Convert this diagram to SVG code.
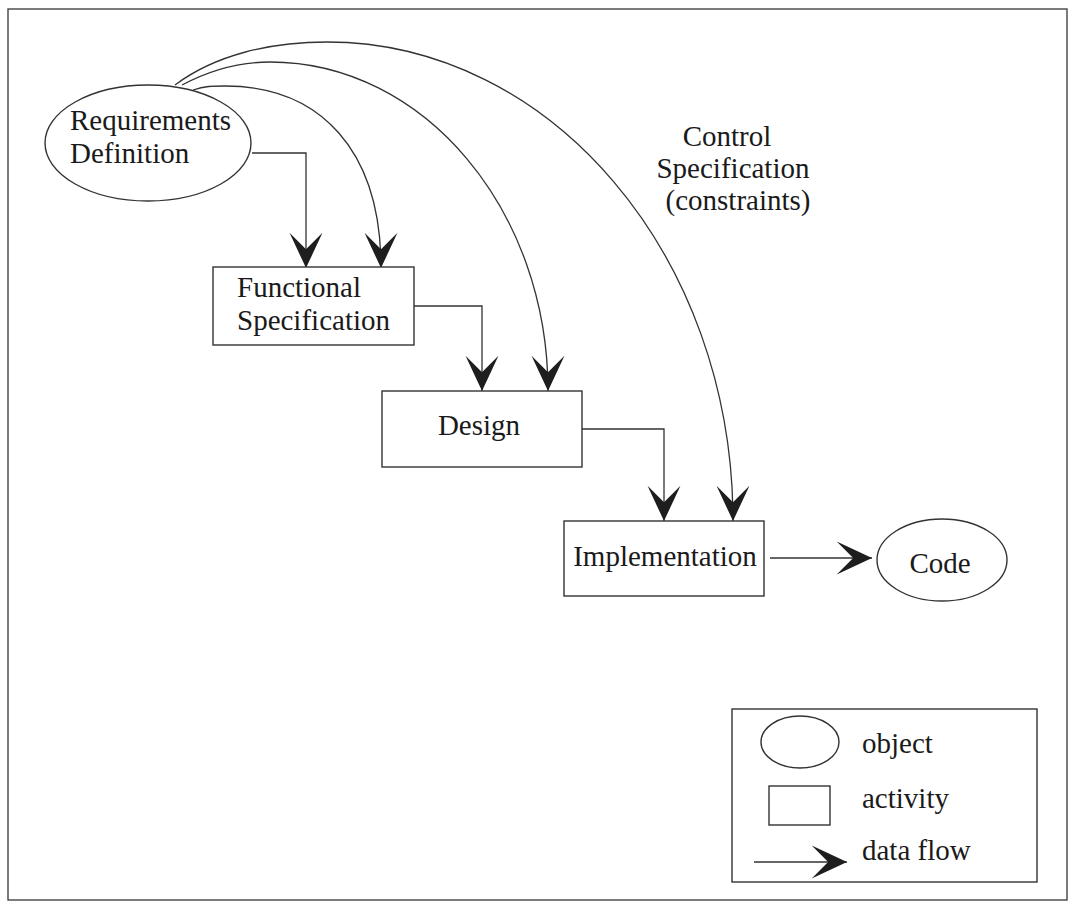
<svg xmlns="http://www.w3.org/2000/svg" width="1071" height="912" viewBox="0 0 1071 912">
<defs>
<style>
.t{font-family:"Liberation Serif","Times New Roman",serif;font-size:29px;fill:#1a1a1a}
.s{fill:#fff;stroke:#333;stroke-width:1.4}
.c{fill:none;stroke:#333;stroke-width:1.3}
</style>
<marker id="ah" markerUnits="userSpaceOnUse" markerWidth="40" markerHeight="40" viewBox="-32 -16 34 32" refX="0" refY="0" orient="auto">
<path d="M0,0 L-30,-14 L-16,0 L-30,14 Z" fill="#1e1e1e"/>
</marker>
</defs>
<rect width="1071" height="912" fill="#fff"/>
<rect x="8" y="9" width="1059" height="891" fill="none" stroke="#444" stroke-width="1.4"/>
<g id="connectors">
<path class="c" d="M252,153 H306 V268" marker-end="url(#ah)"/>
<path class="c" d="M193,90 C205,86 212,86 225,86 C320,86 381,150 381,268" marker-end="url(#ah)"/>
<path class="c" d="M182,85 C210,70 240,62 270,62 C424,62 548,210 548,391" marker-end="url(#ah)"/>
<path class="c" d="M175,85 C215,55 270,42 327,42 C551,42 733,256 733,521" marker-end="url(#ah)"/>
<path class="c" d="M414,306 H482 V391" marker-end="url(#ah)"/>
<path class="c" d="M582,429 H664 V521" marker-end="url(#ah)"/>
<path class="c" d="M770,558 H872" marker-end="url(#ah)"/>
</g>
<g id="requirements">
<ellipse class="s" cx="148" cy="143" rx="103" ry="58"/>
<text class="t" x="70" y="130">Requirements</text>
<text class="t" x="70" y="163">Definition</text>
</g>
<g id="functional">
<rect class="s" x="213" y="267" width="201" height="78"/>
<text class="t" x="237" y="297">Functional</text>
<text class="t" x="237" y="330">Specification</text>
</g>
<g id="design">
<rect class="s" x="382" y="391" width="200" height="76"/>
<text class="t" x="479" y="435" text-anchor="middle">Design</text>
</g>
<g id="implementation">
<rect class="s" x="564" y="521" width="200" height="75"/>
<text class="t" x="665" y="566" text-anchor="middle">Implementation</text>
</g>
<g id="code">
<ellipse class="s" cx="942" cy="560" rx="65" ry="41"/>
<text class="t" x="940" y="573" text-anchor="middle">Code</text>
</g>
<g id="control-label">
<text class="t" x="727" y="146" text-anchor="middle">Control</text>
<text class="t" x="733" y="178" text-anchor="middle">Specification</text>
<text class="t" x="738" y="210" text-anchor="middle">(constraints)</text>
</g>
<g id="legend">
<rect class="s" x="732" y="709" width="305" height="173"/>
<ellipse class="s" cx="800" cy="742" rx="39" ry="26"/>
<text class="t" x="862" y="753">object</text>
<rect class="s" x="769" y="786" width="61" height="39"/>
<text class="t" x="862" y="808">activity</text>
<path class="c" d="M754,862 H847" marker-end="url(#ah)"/>
<text class="t" x="862" y="860">data flow</text>
</g>
</svg>
